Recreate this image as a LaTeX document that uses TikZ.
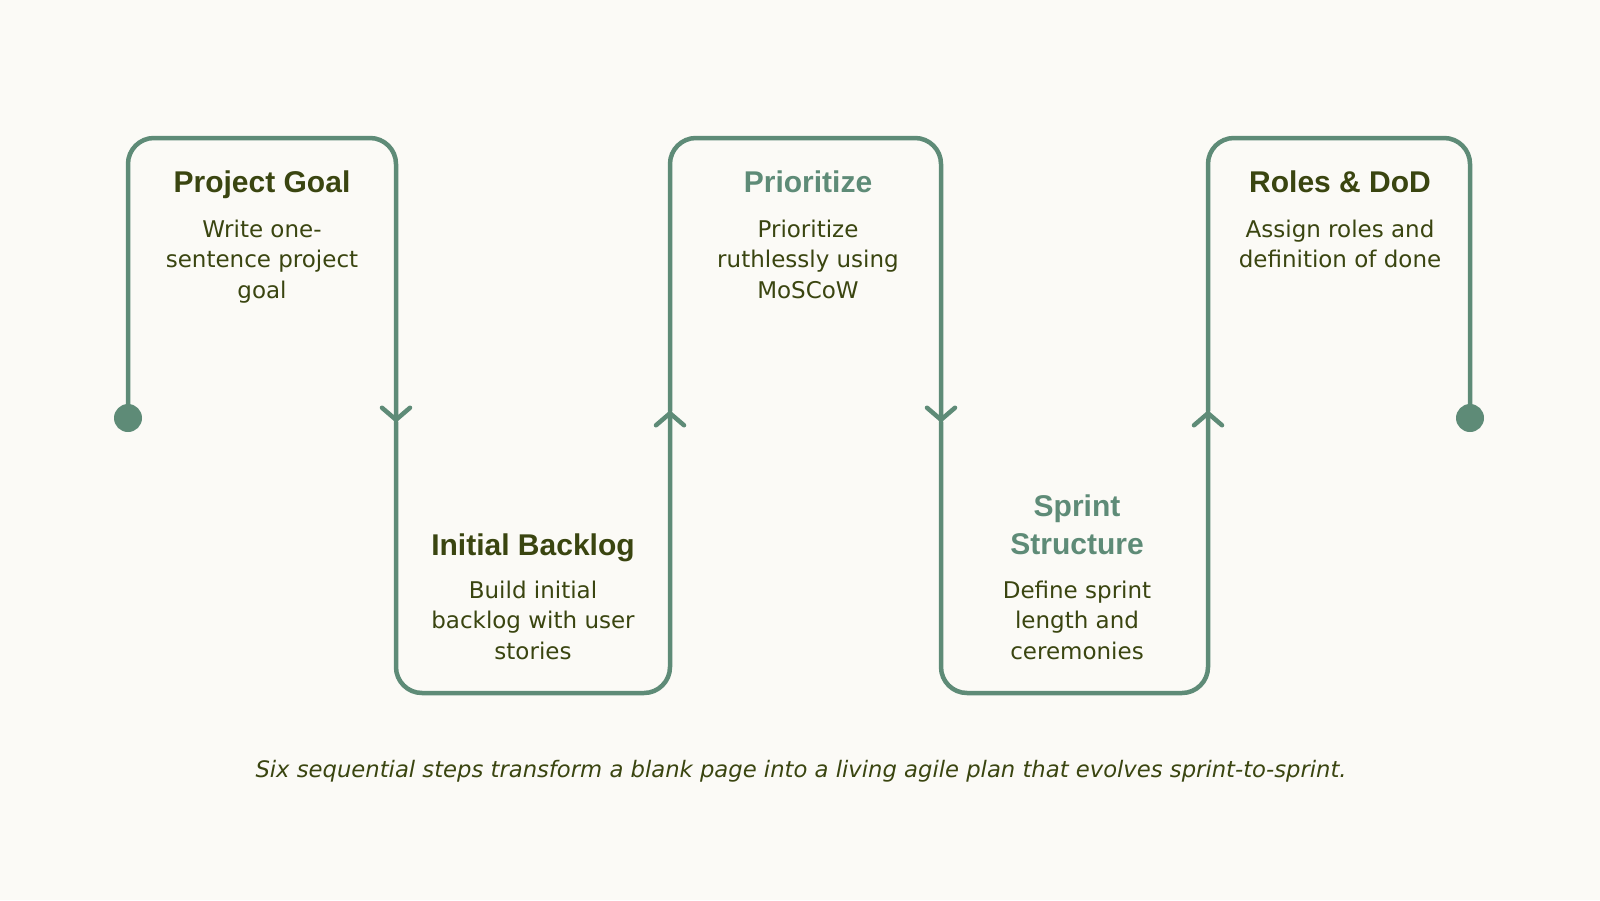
\documentclass[tikz,border=0pt]{standalone}
\usepackage{fontspec}
\setmainfont{DejaVu Sans}
\newfontfamily\ttlfont{Liberation Sans}
\usetikzlibrary{arrows.meta}
\definecolor{bg}{HTML}{FBFAF6}
\definecolor{ln}{HTML}{5E8B77}
\definecolor{ink}{HTML}{3A4510}
\tikzset{
  flow/.style={draw=ln, line width=4.5pt, rounded corners=26pt, line cap=round},
  tip/.style={-{Straight Barb[length=12pt,width=28pt,round]}},
  ttl/.style={anchor=base, text=ink, font=\ttlfont\bfseries\fontsize{30}{38}\selectfont, inner sep=0pt},
  ttlg/.style={ttl, text=ln},
  body/.style={anchor=base, text=ink, font=\fontsize{23}{30.5}\selectfont, inner sep=0pt},
  dotm/.style={fill=ln}
}
\begin{document}
\begin{tikzpicture}[x=1pt,y=-1pt]
\fill[bg] (0,0) rectangle (1600,900);
\useasboundingbox (0,0) rectangle (1600,900);
% path coordinates
\coordinate (s) at (128,418);
\coordinate (a1) at (128,138); \coordinate (a2) at (396,138); \coordinate (m1) at (396,422);
\coordinate (b1) at (396,693); \coordinate (b2) at (670,693); \coordinate (m2) at (670,411);
\coordinate (c1) at (670,138); \coordinate (c2) at (941,138); \coordinate (m3) at (941,422);
\coordinate (d1) at (941,693); \coordinate (d2) at (1208,693); \coordinate (m4) at (1208,411);
\coordinate (e1) at (1208,138); \coordinate (e2) at (1470,138); \coordinate (e) at (1470,418);
\draw[flow, tip] (s) -- (a1) -- (a2) -- (m1);
\draw[flow, tip] (m1) -- (b1) -- (b2) -- (m2);
\draw[flow, tip] (m2) -- (c1) -- (c2) -- (m3);
\draw[flow, tip] (m3) -- (d1) -- (d2) -- (m4);
\draw[flow] (m4) -- (e1) -- (e2) -- (e);
\fill[dotm] (s) circle (14pt);
\fill[dotm] (e) circle (14pt);
% step 1
\node[ttl] (t1) at (262,192) {Project Goal};
\node[body] (t1a) at (262,237) {Write one-};
\node[body] (t1b) at (262,267.5) {sentence project};
\node[body] (t1c) at (262,298) {goal};
% step 2
\node[ttl] (t2) at (533,555) {Initial Backlog};
\node[body] (t2a) at (533,598) {Build initial};
\node[body] (t2b) at (533,628.5) {backlog with user};
\node[body] (t2c) at (533,659) {stories};
% step 3
\node[ttlg] (t3) at (808,192) {Prioritize};
\node[body] (t3a) at (808,237) {Prioritize};
\node[body] (t3b) at (808,267.5) {ruthlessly using};
\node[body] (t3c) at (808,298) {MoSCoW};
% step 4
\node[ttlg] (t4) at (1077,516) {Sprint};
\node[ttlg] (t4s) at (1077,554) {Structure};
\node[body] (t4a) at (1077,598) {Define sprint};
\node[body] (t4b) at (1077,628.5) {length and};
\node[body] (t4c) at (1077,659) {ceremonies};
% step 5
\node[ttl] (t5) at (1340,192) {Roles \& DoD};
\node[body] (t5a) at (1340,237) {Assign roles and};
\node[body] (t5b) at (1340,267.5) {definition of done};
% caption
\node[anchor=base, text=ink, font=\itshape\fontsize{22.7}{27}\selectfont, inner sep=0pt] (cap) at (801,777) {Six sequential steps transform a blank page into a living agile plan that evolves sprint-to-sprint.};
\end{tikzpicture}
\end{document}
